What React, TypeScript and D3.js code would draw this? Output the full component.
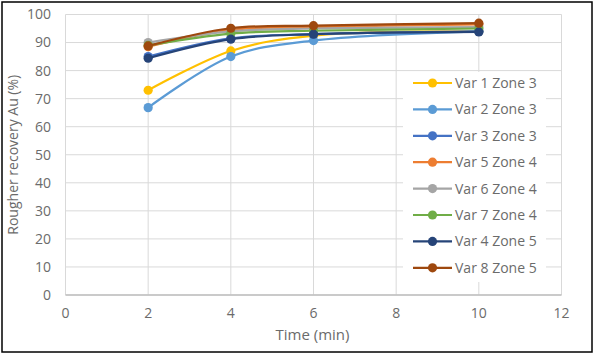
import React from "react";
import * as d3 from "d3";

const times = [2, 4, 6, 10];
const seriesNames = [
  "Var 1 Zone 3",
  "Var 2 Zone 3",
  "Var 3 Zone 3",
  "Var 5 Zone 4",
  "Var 6 Zone 4",
  "Var 7 Zone 4",
  "Var 4 Zone 5",
  "Var 8 Zone 5",
];
const var1Zone3 = [73, 87, 92.5, 94];
const var2Zone3 = [66.8, 85, 90.7, 94];
const var3Zone3 = [85, 91.5, 93, 94];
const var5Zone4 = [88.5, 94.5, 95.5, 96.5];
const var6Zone4 = [90, 94, 95, 95.5];
const var7Zone4 = [89, 93.2, 94.2, 95];
const var4Zone5 = [84.4, 91.2, 93, 93.8];
const var8Zone5 = [88.8, 95.1, 96, 96.9];
const seriesValues = [var1Zone3, var2Zone3, var3Zone3, var5Zone4, var6Zone4, var7Zone4, var4Zone5, var8Zone5];
const seriesColors = ["#FFC000", "#5B9BD5", "#4472C4", "#ED7D31", "#A5A5A5", "#70AD47", "#264478", "#9E480E"];
const xTicks = [0, 2, 4, 6, 8, 10, 12];
const yTicks = [0, 10, 20, 30, 40, 50, 60, 70, 80, 90, 100];

export default function App() {
  const W = 595, H = 356;
  const x = d3.scaleLinear().domain([0, 12]).range([65.5, 561.5]);
  const y = d3.scaleLinear().domain([0, 100]).range([295, 14.5]);
  const line = d3
    .line<[number, number]>()
    .x((d) => x(d[0]))
    .y((d) => y(d[1]))
    .curve(d3.curveCatmullRom.alpha(0.5));
  const font = "'Open Sans', sans-serif";
  const txt = "#6b6b6b";
  const legX = 403, legY = 72, legW = 143, legH = 210;
  const legRow = 26.4;
  return (
    <svg width={W} height={H} style={{ position: "absolute", left: 0, top: 0, background: "#fff" }}>
      <rect x={0} y={0} width={W} height={H} fill="#fff" />
      {yTicks.map((t) => (
        <line key={"gy" + t} x1={x(0)} x2={x(12)} y1={y(t)} y2={y(t)} stroke="#D9D9D9" strokeWidth={1} />
      ))}
      {xTicks.map((t) => (
        <line key={"gx" + t} x1={x(t)} x2={x(t)} y1={y(0)} y2={y(100)} stroke="#D9D9D9" strokeWidth={1} />
      ))}
      <line x1={x(0)} x2={x(12)} y1={y(0)} y2={y(0)} stroke="#BFBFBF" strokeWidth={1.5} />
      {yTicks.map((t) => (
        <text key={"ty" + t} x={51} y={y(t)} dy="0.35em" textAnchor="end" fontSize={14} fill={txt} fontFamily={font}>
          {t}
        </text>
      ))}
      {xTicks.map((t) => (
        <text key={"tx" + t} x={x(t)} y={313} dy="0.35em" textAnchor="middle" fontSize={14} fill={txt} fontFamily={font}>
          {t}
        </text>
      ))}
      <text x={312.5} y={335} dy="0.35em" textAnchor="middle" fontSize={15} fill={txt} fontFamily={font}>
        Time (min)
      </text>
      <text
        transform={`translate(13,${(y(0) + y(100)) / 2}) rotate(-90)`}
        dy="0.35em"
        textAnchor="middle"
        fontSize={14}
        fill={txt}
        fontFamily={font}
      >
        Rougher recovery Au (%)
      </text>
      {seriesValues.map((vals, i) => {
        const pts: [number, number][] = times.map((t, j) => [t, vals[j]]);
        return (
          <g key={"s" + i}>
            <path d={line(pts) || ""} fill="none" stroke={seriesColors[i]} strokeWidth={2.2} />
            {pts.map((p, j) => (
              <circle key={j} cx={x(p[0])} cy={y(p[1])} r={4.6} fill={seriesColors[i]} />
            ))}
          </g>
        );
      })}
      <rect x={legX} y={legY} width={legW} height={legH} fill="#fff" />
      {seriesNames.map((n, i) => {
        const cy = 83 + i * legRow;
        return (
          <g key={"l" + i}>
            <line x1={413} x2={452} y1={cy} y2={cy} stroke={seriesColors[i]} strokeWidth={2.2} />
            <circle cx={432.5} cy={cy} r={4.6} fill={seriesColors[i]} />
            <text x={455} y={cy} dy="0.35em" fontSize={14} fill={txt} fontFamily={font}>
              {n}
            </text>
          </g>
        );
      })}
      <rect x={2} y={2} width={590} height={350} fill="none" stroke="#000" strokeWidth={1.5} />
    </svg>
  );
}
